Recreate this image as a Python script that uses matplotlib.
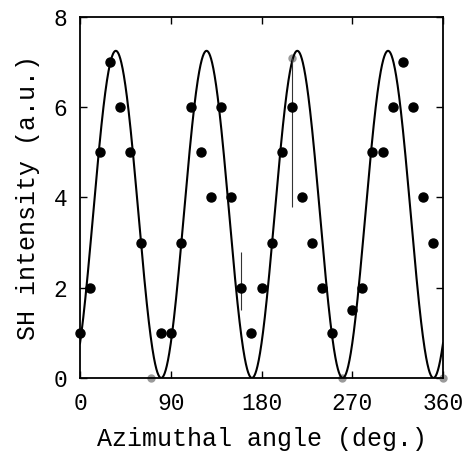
import numpy as np
import matplotlib
matplotlib.use("Agg")
from matplotlib import pyplot as plt

angle = [0, 10, 20, 30, 40, 50, 60, 80, 90, 100, 110, 120, 130, 140, 150,
         160, 170, 180, 190, 200, 210, 220, 230, 240, 250, 270, 280, 290,
         300, 310, 320, 330, 340, 350]
intensity = [1, 2, 5, 7, 6, 5, 3, 1, 1, 3, 6, 5, 4, 6, 4,
             2, 1, 2, 3, 5, 6, 4, 3, 2, 1, 1.5, 2, 5,
             5, 6, 7, 6, 4, 3]

# faint (grey) points in the scan
faint_angle = [70, 210, 260, 360]
faint_intensity = [0, 7.1, 0, 0]

# fitted curve  I = A cos^2(2(phi - phi0))
fit_amp = 7.25
fit_phase = 35.5

# stray vertical strokes in the original scan
stroke_x = [210, 160]
stroke_lo = [3.8, 1.5]
stroke_hi = [7.1, 2.8]

phi = np.linspace(0, 360, 1441)
fit = fit_amp * np.cos(np.radians(2 * (phi - fit_phase))) ** 2

plt.rcParams['font.family'] = 'Liberation Mono'

fig = plt.figure(figsize=(4.69, 4.54), dpi=100)
ax = fig.add_axes([0.1706, 0.1674, 0.774, 0.7952])

ax.plot(phi, fit, color='black', lw=1.5, zorder=3)
ax.plot(angle, intensity, 'o', color='black', ms=6.5, zorder=4, clip_on=False)
ax.plot(faint_angle, faint_intensity, 'o', color='#9a9a9a', ms=5, zorder=2,
        clip_on=False)
ax.vlines(stroke_x, stroke_lo, stroke_hi, color='#333333', lw=0.8, zorder=3)

ax.set_xlim(0, 360)
ax.set_ylim(0, 8)
ax.set_xticks([0, 90, 180, 270, 360])
ax.set_yticks([0, 2, 4, 6, 8])
ax.tick_params(direction='in', top=True, right=True, length=5, width=1,
               labelsize=16.5)
ax.tick_params(axis='x', pad=10)
ax.tick_params(axis='y', pad=9)
for s in ax.spines.values():
    s.set_linewidth(1.3)

ax.set_xlabel('Azimuthal angle (deg.)', fontsize=18, labelpad=9)
ax.set_ylabel('SH intensity (a.u.)', fontsize=18, labelpad=10)

fig.savefig('out.png', dpi=100)
